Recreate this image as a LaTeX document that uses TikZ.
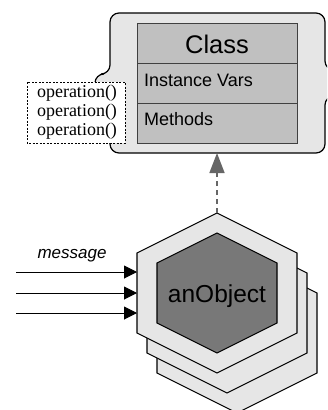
\documentclass[tikz,border=0pt]{standalone}
\usepackage{fontspec}
\setmainfont{Liberation Serif}
\setsansfont{Liberation Sans}
\usetikzlibrary{arrows.meta}

\definecolor{panelgray}{HTML}{E6E6E6}
\definecolor{classgray}{HTML}{C0C0C0}
\definecolor{coregray}{HTML}{787878}
\definecolor{rowline}{HTML}{404040}
\definecolor{depgray}{HTML}{666666}

\tikzset{
  panel/.style={fill=panelgray, draw=black, line width=1.2pt, rounded corners=9pt},
  classrow/.style={fill=classgray, draw=rowline, line width=0.9pt},
  opsbox/.style={draw=black, dash pattern=on 2pt off 1.5pt, fill=white, line width=0.7pt},
  hexshell/.style={fill=panelgray, draw=black, line width=1.1pt, line join=miter},
  hexcore/.style={fill=coregray, draw=black, line width=1.1pt, line join=miter},
  dep/.style={draw=depgray, line width=1.5pt, dash pattern=on 5pt off 4pt,
    -{Triangle[length=20pt,width=15pt]}},
  msg/.style={draw=black, line width=1pt, -{Triangle[length=13pt,width=13pt]}},
  sanslabel/.style={font=\sffamily, inner sep=0pt},
  oplabel/.style={font=\fontsize{18}{19}\selectfont, inner sep=0pt, align=center}
}

\begin{document}
\begin{tikzpicture}[x=1pt, y=-1pt]
  \useasboundingbox (0,0) rectangle (327,410);
  \clip (0,0) rectangle (327,410);

  % class panel with side tabs
  \draw[panel] (200,13) -- (325,13) -- (325,70) -- (345,70) -- (345,96) -- (325,96)
    -- (325,153) -- (110,153) -- (110,135) -- (95,135) -- (95,74) -- (110,74)
    -- (110,13) -- cycle;
  \coordinate (clsbase) at (217,153);

  % class compartments
  \draw[classrow] (137,23) rectangle (297,63);
  \draw[classrow] (137,63) rectangle (297,103);
  \draw[classrow] (137,103) rectangle (297,143);
  \node[sanslabel, font=\sffamily\fontsize{25.5}{28}\selectfont, anchor=base] (clsname) at (217,53) {Class};
  \node[sanslabel, font=\sffamily\fontsize{18}{20}\selectfont, anchor=base west] (vars) at (144,86) {Instance Vars};
  \node[sanslabel, font=\sffamily\fontsize{18}{20}\selectfont, anchor=base west] (meths) at (144,125) {Methods};

  % operation list
  \draw[opsbox] (27,82) rectangle (125,143);
  \node[oplabel, anchor=base] (op1) at (77,97) {operation()};
  \node[oplabel, anchor=base] (op2) at (77,116) {operation()};
  \node[oplabel, anchor=base] (op3) at (77,135) {operation()};

  % stacked object hexagons, back to front
  \foreach \cx/\cy in {237/333, 227/313} {
    \draw[hexshell] (\cx,\cy) ++(0,-80) -- ++(80,40) -- ++(0,80) -- ++(-80,40)
      -- ++(-80,-40) -- ++(0,-80) -- cycle;
  }
  \draw[hexshell] (217,293) ++(0,-80) -- ++(80,40) -- ++(0,80) -- ++(-80,40)
    -- ++(-80,-40) -- ++(0,-80) -- cycle;
  \draw[hexcore] (217,293) ++(0,-60) -- ++(60,30) -- ++(0,60) -- ++(-60,30)
    -- ++(-60,-30) -- ++(0,-60) -- cycle;
  \coordinate (objtop) at (217,213);
  \node[sanslabel, font=\sffamily\fontsize{24.5}{27}\selectfont, anchor=base] (obj) at (217,302) {anObject};

  % instance-of dependency
  \draw[dep] (objtop) -- (clsbase);

  % incoming messages
  \node[sanslabel, font=\sffamily\itshape\fontsize{17}{19}\selectfont, anchor=base] (msglabel) at (72,258) {message};
  \coordinate (m1s) at (16,272); \coordinate (m1e) at (137,272);
  \coordinate (m2s) at (16,293); \coordinate (m2e) at (137,293);
  \coordinate (m3s) at (16,313); \coordinate (m3e) at (137,313);
  \draw[msg] (m1s) -- (m1e);
  \draw[msg] (m2s) -- (m2e);
  \draw[msg] (m3s) -- (m3e);
\end{tikzpicture}
\end{document}
